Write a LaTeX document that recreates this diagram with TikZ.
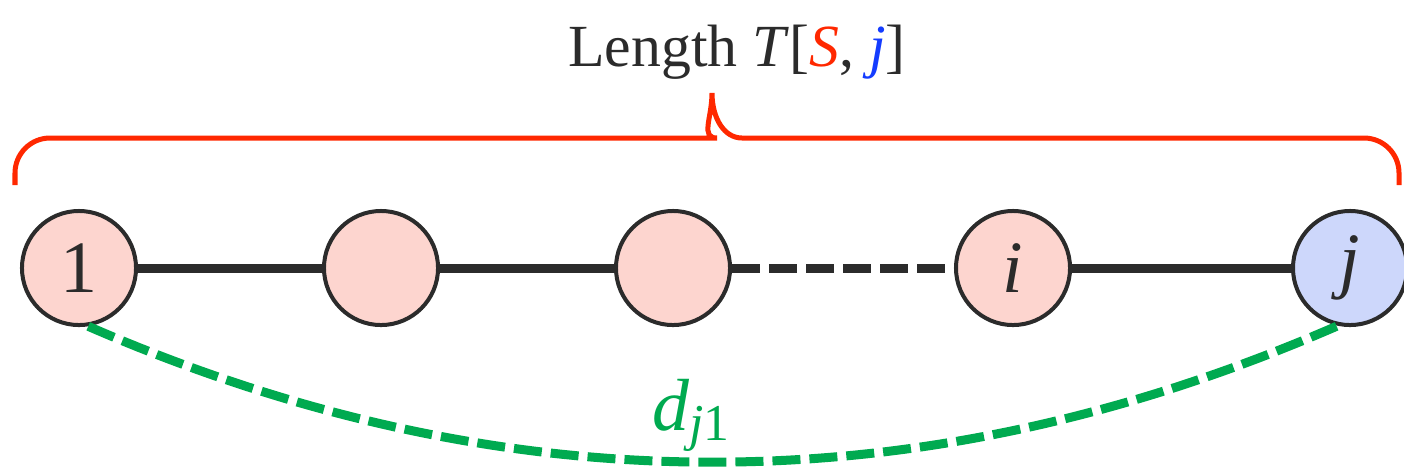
\documentclass[tikz,border=0pt]{standalone}
\usepackage{fontspec}
\setmainfont{Liberation Serif}
\usetikzlibrary{calc}

\definecolor{nodepink}{RGB}{253,213,207}
\definecolor{nodeblue}{RGB}{205,215,251}
\definecolor{inkgray}{RGB}{43,43,43}
\definecolor{bracered}{RGB}{255,40,0}
\definecolor{titleblue}{RGB}{20,60,255}
\definecolor{distgreen}{RGB}{0,170,80}

\begin{document}
\begin{tikzpicture}[x=0.01cm, y=-0.01cm,
    city/.style={circle, draw=inkgray, line width=0.04cm, minimum size=1.14cm,
        inner sep=0pt, fill=nodepink, text=inkgray,
        font=\fontsize{21}{24}\selectfont},
    edge/.style={draw=inkgray, line width=0.09cm},
    gap/.style={edge, dash pattern=on 0.28cm off 0.09cm},
    brace/.style={draw=bracered, line width=0.05cm},
    dist/.style={draw=distgreen, line width=0.09cm, dash pattern=on 0.28cm off 0.09cm}]
    \useasboundingbox (0,0) rectangle (1404,469);

    % cities of the path
        \node[city] (n1) at (79,268) {1};
        \node[city] (n2) at (381,268) {};
        \node[city] (n3) at (673,268) {};
        \node[city] (ni) at (1013,268) {\textit{i}};
        \node[city, fill=nodeblue] (nj) at (1350,268) {\textit{j}};

    % path edges
        \draw[edge] (n1) -- (n2);
        \draw[edge] (n2) -- (n3);
        \draw[gap] (n3) -- (ni);
        \draw[edge] (ni) -- (nj);

    % closing edge back to 1
        \draw[dist] (n1.-81) .. controls (506,508) and (922,507) .. (nj.-102);
        \node[text=distgreen, anchor=base, font=\fontsize{21}{24}\selectfont]
            (dlabel) at (692,430) {\textit{d}\textsubscript{\textit{j}1}};

    % brace over the whole path
        \draw[brace] (15,185) [rounded corners=0.35cm] |- (682,138) [sharp corners]
            .. controls (700,138) and (712,118) .. (712,93)
            .. controls (712,118) and (724,138) .. (742,138)
            [rounded corners=0.35cm] -| (1399,185);

    % length label
        \node[text=inkgray, anchor=base, font=\fontsize{17}{21}\selectfont] (title) at (737,66)
            {Length \textit{T}[{\color{bracered}\textit{S}}, {\color{titleblue}\textit{j}}]};

\end{tikzpicture}
\end{document}
